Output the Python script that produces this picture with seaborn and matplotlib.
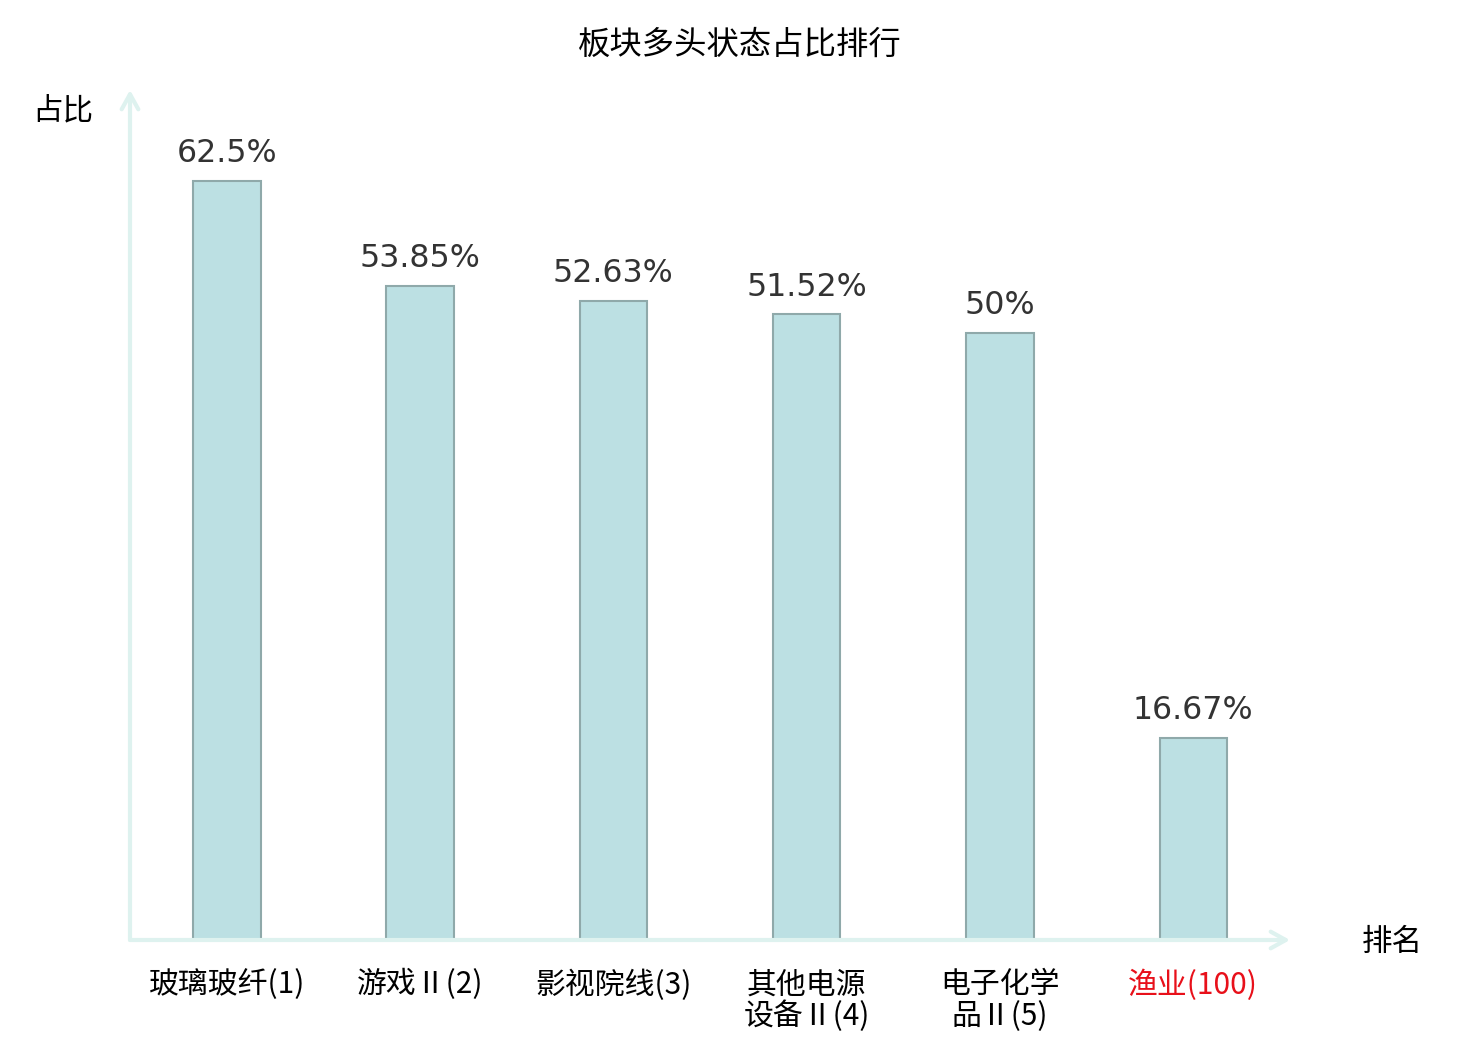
import matplotlib
matplotlib.use("Agg")
import matplotlib.pyplot as plt
import seaborn as sns
import pandas as pd

categories = ["玻璃玻纤(1)", "游戏Ⅱ(2)", "影视院线(3)", "其他电源\n设备Ⅱ(4)", "电子化学\n品Ⅱ(5)", "渔业(100)"]
values = [62.5, 53.85, 52.63, 51.52, 50.0, 16.67]
value_labels = ["62.5%", "53.85%", "52.63%", "51.52%", "50%", "16.67%"]
label_colors = ["#000000", "#000000", "#000000", "#000000", "#000000", "#e8101a"]
title = "板块多头状态占比排行"
y_name = "占比"
x_name = "排名"

sns.set_theme(style="white")
plt.rcParams['font.family'] = ['Noto Sans CJK SC', 'DejaVu Sans']

df = pd.DataFrame({"cat": categories, "val": values})

fig = plt.figure(figsize=(14.8, 10.4), dpi=100)
ax = fig.add_axes([130/1480, 100/1040, (1290-130)/1480, (940-90)/1040])

sns.barplot(data=df, x="cat", y="val", ax=ax, width=0.35,
            color="#bce0e3", edgecolor="#8fa9aa", linewidth=1.5, saturation=1)

ax.set_xlim(-0.5, 5.5)
ax.set_ylim(0, 70)
for s in ax.spines.values():
    s.set_visible(False)
ax.set_yticks([])
ax.set_xlabel("")
ax.set_ylabel("")
ax.tick_params(axis='x', length=0, pad=21)
ax.set_xticks(range(len(categories)))
ax.set_xticklabels(categories, fontsize=21.5, linespacing=1.02,
                   family=['Noto Sans CJK SC', 'DejaVu Sans'])
for t, c in zip(ax.get_xticklabels(), label_colors):
    t.set_color(c)

for i, (v, lab) in enumerate(zip(values, value_labels)):
    ax.annotate(lab, (i, v), xytext=(0, 13.5), textcoords="offset points",
                ha="center", va="baseline", fontsize=22.8, color="#333333",
                family="DejaVu Sans")

axis_color = "#def2ef"
ax.annotate("", xy=(1.0, 0), xytext=(0, 0), xycoords="axes fraction",
            arrowprops=dict(arrowstyle="->,head_length=0.9,head_width=0.5",
                            color=axis_color, lw=3, shrinkA=0, shrinkB=0),
            annotation_clip=False)
ax.annotate("", xy=(0, 1.0), xytext=(0, 0), xycoords="axes fraction",
            arrowprops=dict(arrowstyle="->,head_length=0.9,head_width=0.5",
                            color=axis_color, lw=3, shrinkA=0, shrinkB=0),
            annotation_clip=False)

fig.text(740/1480, 1 - 45/1040, title, ha="center", va="center", fontsize=23.3, color="#000000")
fig.text(63/1480, 1 - 111/1040, y_name, ha="center", va="center", fontsize=22, color="#000000")
fig.text(1392/1480, 1 - 942/1040, x_name, ha="center", va="center", fontsize=22, color="#000000")

fig.savefig("out.png", dpi=100)
